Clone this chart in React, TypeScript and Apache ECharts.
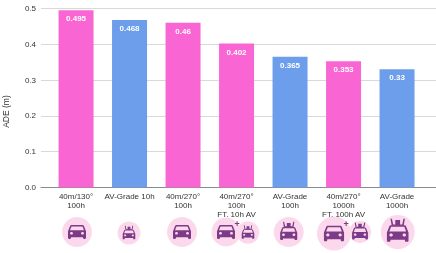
import React, { useEffect, useRef } from "react";
import * as echarts from "echarts";

const categories = [
  "40m/130°\n100h",
  "AV-Grade 10h",
  "40m/270°\n100h",
  "40m/270°\n100h\nFT. 10h AV",
  "AV-Grade\n100h",
  "40m/270°\n1000h\nFT. 100h AV",
  "AV-Grade\n1000h",
];
const values = [0.495, 0.468, 0.46, 0.402, 0.365, 0.353, 0.33];
const barColors = ["#F966D4", "#6D9EEB", "#F966D4", "#F966D4", "#6D9EEB", "#F966D4", "#6D9EEB"];
const yTicks = [0, 0.1, 0.2, 0.3, 0.4, 0.5];

const CAR =
  "M18.92 6.01C18.72 5.42 18.16 5 17.5 5h-11c-.66 0-1.21.42-1.42 1.01L3 12v8c0 .55.45 1 1 1h1c.55 0 1-.45 1-1v-1h12v1c0 .55.45 1 1 1h1c.55 0 1-.45 1-1v-8l-2.08-5.99zM6.5 16c-.83 0-1.5-.67-1.5-1.5S5.67 13 6.5 13s1.5.67 1.5 1.5S7.33 16 6.5 16zm11 0c-.83 0-1.5-.67-1.5-1.5s.67-1.5 1.5-1.5 1.5.67 1.5 1.5-.67 1.5-1.5 1.5zM5 11l1.5-4.5h11L19 11H5z";
const SENSOR = "M7 5L6 0h1.2l1 4h7.6l1-4H18l-1 5zM10 4V1h4v3z";
echarts.graphic.registerShape("car", echarts.graphic.extendPath(CAR, {}) as any);
echarts.graphic.registerShape("sensor", echarts.graphic.extendPath(SENSOR, {}) as any);

const CIRCLE = "#FCD8EC";
const PURPLE = "#7D3A87";

function icon(cx: number, cy: number, r: number, av: boolean, s: number) {
  const sx = s;
  const sy = s * 0.86;
  const shift = av ? 1.5 : 0;
  const top = cy - 13 * sy + shift;
  const out: any[] = [
    { type: "circle", shape: { cx, cy, r }, style: { fill: CIRCLE } },
    { type: "car", x: cx - 12 * sx, y: top, scaleX: sx, scaleY: sy, style: { fill: PURPLE } },
  ];
  if (av) {
    out.push({ type: "sensor", x: cx - 12 * sx, y: top + 5 * sy - 5.5 * s, scaleX: sx, scaleY: 1.2 * s, style: { fill: PURPLE } });
  }
  return out;
}
const plus = (x: number, y: number) => ({
  type: "text",
  x,
  y,
  style: { text: "+", fill: PURPLE, font: "bold 9px 'Liberation Sans'", align: "center", verticalAlign: "middle" },
});

export default function App() {
  const ref = useRef<HTMLDivElement>(null);
  useEffect(() => {
    const chart = echarts.init(ref.current!, undefined, { renderer: "svg" });
    const font = "Liberation Sans";
    chart.setOption({
      animation: false,
      textStyle: { fontFamily: font },
      grid: [
        { left: 41, right: 0, top: 8.5, height: 179 },
        { left: 49.3, width: 374.5, top: 8.5, height: 179 },
      ],
      xAxis: [
        {
          type: "category",
          gridIndex: 0,
          data: categories,
          axisLabel: { show: false },
          axisTick: { show: false },
          axisLine: { lineStyle: { color: "#8a8a8a", width: 1 } },
        },
        {
          type: "category",
          gridIndex: 1,
          data: categories,
          axisLine: { show: false },
          axisTick: { show: false },
          axisLabel: { color: "#333", fontSize: 8, lineHeight: 9, margin: 4, interval: 0, fontFamily: font },
        },
      ],
      yAxis: [
        {
          type: "value",
          gridIndex: 0,
          min: 0,
          max: 0.5,
          interval: 0.1,
          axisLine: { show: false },
          axisTick: { show: false },
          splitLine: { lineStyle: { color: "#D9D9D9", width: 1 } },
          axisLabel: {
            color: "#333",
            fontSize: 8,
            margin: 5,
            fontFamily: font,
            formatter: (v: number) => yTicks.find((t) => Math.abs(t - v) < 1e-6)!.toFixed(1),
          },
        },
        { type: "value", gridIndex: 1, min: 0, max: 0.5, interval: 0.1, show: false },
      ],
      series: [
        {
          type: "bar",
          xAxisIndex: 1,
          yAxisIndex: 1,
          barWidth: 35,
          data: values.map((v, i) => ({ value: v, itemStyle: { color: barColors[i] } })),
          label: {
            show: true,
            position: "insideTop",
            distance: 4.5,
            color: "#fff",
            fontSize: 8,
            fontWeight: "bold",
            fontFamily: font,
            formatter: (p: any) => String(p.value),
          },
        },
      ],
      graphic: [
        {
          type: "text",
          x: 6,
          y: 111.5,
          rotation: Math.PI / 2,
          style: { text: "ADE (m)", fill: "#333", font: `8.5px '${font}'`, align: "center", verticalAlign: "middle" },
        },
        ...icon(77, 232, 15, false, 1),
        ...icon(129, 233, 11.5, true, 0.7),
        ...icon(182, 232, 15, false, 1),
        ...icon(226, 232, 14.5, false, 1),
        ...icon(248, 232.5, 11.3, true, 0.7),
        plus(237, 224),
        ...icon(288.7, 232, 15, true, 0.95),
        ...icon(334, 233.5, 17, false, 1.12),
        ...icon(360, 232, 11, true, 0.88),
        plus(346, 224),
        ...icon(397.7, 232, 17, true, 1.2),
      ],
    });
    return () => chart.dispose();
  }, []);
  return <div ref={ref} style={{ position: "fixed", left: 0, top: 0, width: 436, height: 253 }} />;
}
